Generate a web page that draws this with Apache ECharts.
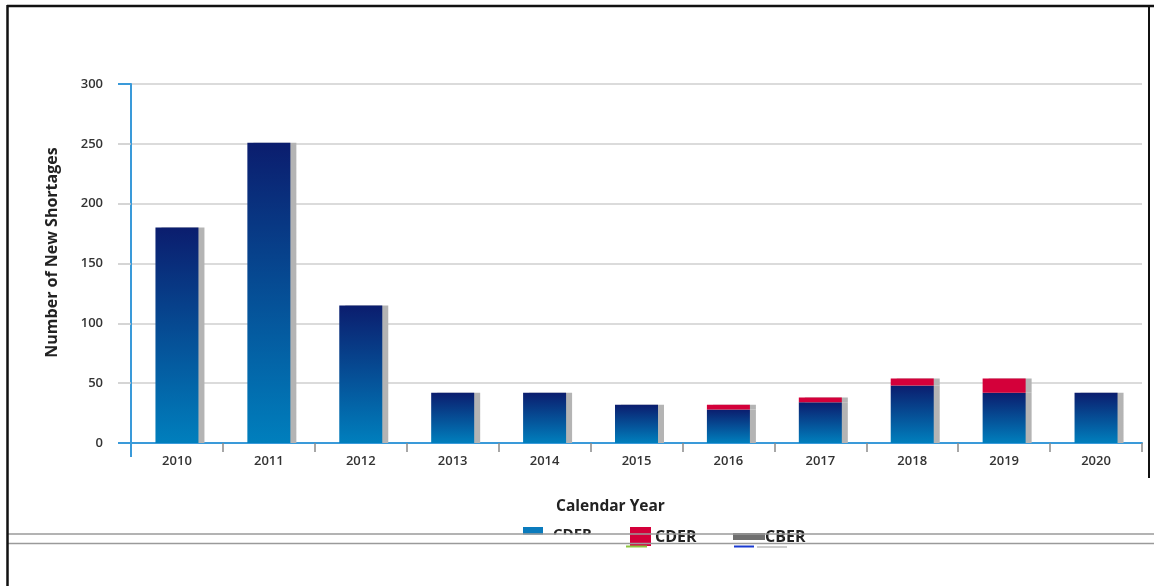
<!DOCTYPE html>
<html>
<head>
<meta charset="utf-8">
<script src="https://cdn.jsdelivr.net/npm/echarts@6/dist/echarts.min.js"></script>
<style>
html,body{margin:0;padding:0;background:#fff;}
#chart{width:1154px;height:586px;}
</style>
</head>
<body>
<div id="chart"></div>
<script>
const years = ['2010','2011','2012','2013','2014','2015','2016','2017','2018','2019','2020'];
const cder = [180, 251, 115, 42, 42, 32, 28, 34, 48, 42, 42];
const cber = [0, 0, 0, 0, 0, 0, 4, 4, 6, 12, 0];
const yTicks = [0, 50, 100, 150, 200, 250, 300];

const FONT = '"Open Sans", "Noto Sans", sans-serif';
const chart = echarts.init(document.getElementById('chart'), null, {renderer: 'canvas'});

const blueGrad = new echarts.graphic.LinearGradient(0, 0, 0, 1, [
  {offset: 0, color: '#0b1d6e'},
  {offset: 1, color: '#007fbd'}
]);

chart.setOption({
  animation: false,
  backgroundColor: '#fff',
  grid: {left: 131, right: 12, top: 84, bottom: 143, containLabel: false},
  xAxis: {
    type: 'category',
    data: years,
    boundaryGap: true,
    axisLine: {show: true, lineStyle: {color: '#3a9ad9', width: 2}},
    axisTick: {show: true, length: 9, lineStyle: {color: '#8a8a8a', width: 1.5}},
    axisLabel: {margin: 12, color: '#333', fontFamily: FONT, fontSize: 13, fontWeight: 600},
    name: 'Calendar Year',
    nameLocation: 'middle',
    nameGap: 56,
    nameTextStyle: {color: '#222', fontFamily: FONT, fontSize: 15.5, fontWeight: 'bold', padding: [0, 52, 0, 0]}
  },
  yAxis: {
    type: 'value',
    min: 0, max: 300, interval: 50,
    axisLine: {show: true, lineStyle: {color: '#3a9ad9', width: 2}},
    axisTick: {show: true, length: 13, lineStyle: {color: '#c8c8c8', width: 1.5}},
    splitLine: {show: true, lineStyle: {color: '#cfcfcf', width: 1.5}},
    axisLabel: {margin: 28, color: '#333', fontFamily: FONT, fontSize: 13, fontWeight: 600,
      formatter: v => yTicks.includes(v) ? String(v) : ''},
    name: 'Number of New Shortages',
    nameLocation: 'middle',
    nameGap: 71,
    nameRotate: 90,
    nameTextStyle: {color: '#222', fontFamily: FONT, fontSize: 16, fontWeight: 'bold', padding: [0, 0, 0, 22]}
  },
  series: [
    {
      name: 'CDER', type: 'bar', stack: 'total', data: cder, barWidth: 43,
      itemStyle: {color: blueGrad, shadowColor: '#b4b4b4', shadowOffsetX: 6, shadowOffsetY: 0, shadowBlur: 0}
    },
    {
      name: 'CBER', type: 'bar', stack: 'total', data: cber, barWidth: 43,
      itemStyle: {color: '#d4003a', shadowColor: '#b4b4b4', shadowOffsetX: 6, shadowOffsetY: 0, shadowBlur: 0}
    }
  ],
  graphic: [
    // legend (rendered as in the reference)
    {type: 'rect', shape: {x: 523, y: 527, width: 20, height: 8}, style: {fill: '#0a7bbd'}, silent: true},
    {type: 'text', left: 553, top: 527, style: {text: 'CDER', font: 'bold 15px ' + FONT, fill: '#222'}, silent: true},
    {type: 'rect', shape: {x: 10, y: 534.5, width: 1144, height: 8.5}, style: {fill: '#fff'}, z: 50, silent: true},
    {type: 'rect', shape: {x: 630, y: 527, width: 21, height: 19}, style: {fill: '#d4003a'}, z: 60, silent: true},
    {type: 'line', shape: {x1: 626, y1: 546.5, x2: 647, y2: 546.5}, style: {stroke: '#8cc63f', lineWidth: 2}, z: 60, silent: true},
    {type: 'text', left: 655, top: 529, style: {text: 'CDER', font: 'bold 16px ' + FONT, fill: '#222'}, z: 60, silent: true},
    {type: 'rect', shape: {x: 733, y: 533, width: 32, height: 7}, style: {fill: '#707070'}, z: 60, silent: true},
    {type: 'line', shape: {x1: 734, y1: 546.5, x2: 754, y2: 546.5}, style: {stroke: '#1a3ad0', lineWidth: 2}, z: 60, silent: true},
    {type: 'line', shape: {x1: 757, y1: 547, x2: 787, y2: 547}, style: {stroke: '#999', lineWidth: 1}, z: 60, silent: true},
    {type: 'text', left: 765, top: 529, style: {text: 'CBER', font: 'bold 16px ' + FONT, fill: '#222'}, z: 60, silent: true},
    // horizontal rules across the page
    {type: 'line', shape: {x1: 8, y1: 534, x2: 1154, y2: 534}, style: {stroke: '#9a9a9a', lineWidth: 1.5}, z: 70, silent: true},
    {type: 'line', shape: {x1: 8, y1: 543.5, x2: 1154, y2: 543.5}, style: {stroke: '#9a9a9a', lineWidth: 1.5}, z: 70, silent: true},
    // page border
    {type: 'line', shape: {x1: 7, y1: 6, x2: 1154, y2: 6}, style: {stroke: '#111', lineWidth: 2.5}, z: 80, silent: true},
    {type: 'line', shape: {x1: 7.5, y1: 5, x2: 7.5, y2: 586}, style: {stroke: '#111', lineWidth: 2.5}, z: 80, silent: true},
    {type: 'line', shape: {x1: 1149, y1: 5, x2: 1149, y2: 478}, style: {stroke: '#111', lineWidth: 2}, z: 80, silent: true},
    // extend axes
    {type: 'line', shape: {x1: 118, y1: 443, x2: 131, y2: 443}, style: {stroke: '#3a9ad9', lineWidth: 2}, z: 10, silent: true},
    {type: 'line', shape: {x1: 118, y1: 84, x2: 131, y2: 84}, style: {stroke: '#3a9ad9', lineWidth: 2}, z: 10, silent: true},
    {type: 'line', shape: {x1: 131, y1: 443, x2: 131, y2: 457}, style: {stroke: '#3a9ad9', lineWidth: 2}, z: 10, silent: true}
  ]
});
</script>
</body>
</html>
